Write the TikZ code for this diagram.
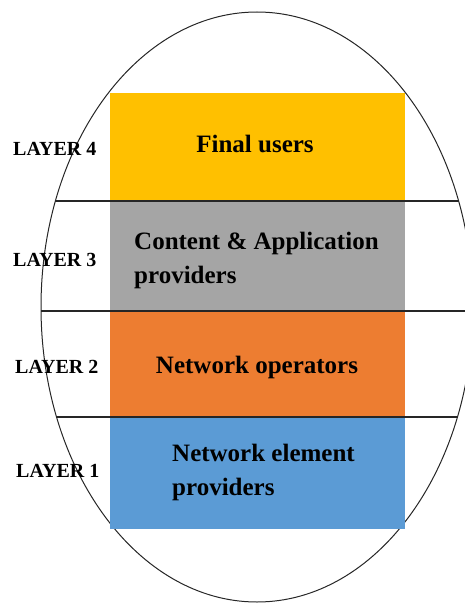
\documentclass[tikz,border=0pt]{standalone}
\usepackage{fontspec}
\setmainfont{Liberation Serif}
\definecolor{cyellow}{HTML}{FFC000}
\definecolor{cgray}{HTML}{A5A5A5}
\definecolor{corange}{HTML}{ED7D31}
\definecolor{cblue}{HTML}{5B9BD5}
\begin{document}
\begin{tikzpicture}[x=1pt,y=-1pt,
  layerbox/.style={draw=none, minimum width=295pt, anchor=north west, inner sep=0pt, outer sep=0pt},
  boxtext/.style={font=\fontsize{25}{34}\selectfont\bfseries, inner sep=0pt, align=left},
  layertext/.style={font=\fontsize{20}{24}\selectfont\bfseries, inner sep=0pt, anchor=base west},
  sepline/.style={line width=1.4pt, black!85}]
\useasboundingbox (0,0) rectangle (465,607);
% ellipse
\coordinate (c) at (257,307);
\draw[line width=1pt, black!85] (c) ellipse [x radius=216, y radius=295];
% boxes
\node[layerbox, fill=cyellow, minimum height=108pt] (b4) at (110,93) {};
\node[layerbox, fill=cgray, minimum height=110pt] (b3) at (110,201) {};
\node[layerbox, fill=corange, minimum height=106pt] (b2) at (110,311) {};
\node[layerbox, fill=cblue, minimum height=112pt] (b1) at (110,417) {};
% separators clipped to ellipse
\begin{scope}
\clip (c) ellipse [x radius=216, y radius=295];
\draw[sepline] (0,201) -- (465,201);
\draw[sepline] (0,311) -- (465,311);
\draw[sepline] (0,417) -- (465,417);
\end{scope}
% texts
\node[boxtext, anchor=base] (t4) at (255,152) {Final users};
\node[boxtext, anchor=base west] (t3) at (134,283) {Content \& Application\\providers};
\node[boxtext, anchor=base] (t2) at (257,373) {Network operators};
\node[boxtext, anchor=base west] (t1) at (172,495) {Network element\\providers};
\node[layertext] (l4) at (13,155) {LAYER 4};
\node[layertext] (l3) at (13,266) {LAYER 3};
\node[layertext] (l2) at (15,373) {LAYER 2};
\node[layertext] (l1) at (16,477) {LAYER 1};
\end{tikzpicture}
\end{document}
